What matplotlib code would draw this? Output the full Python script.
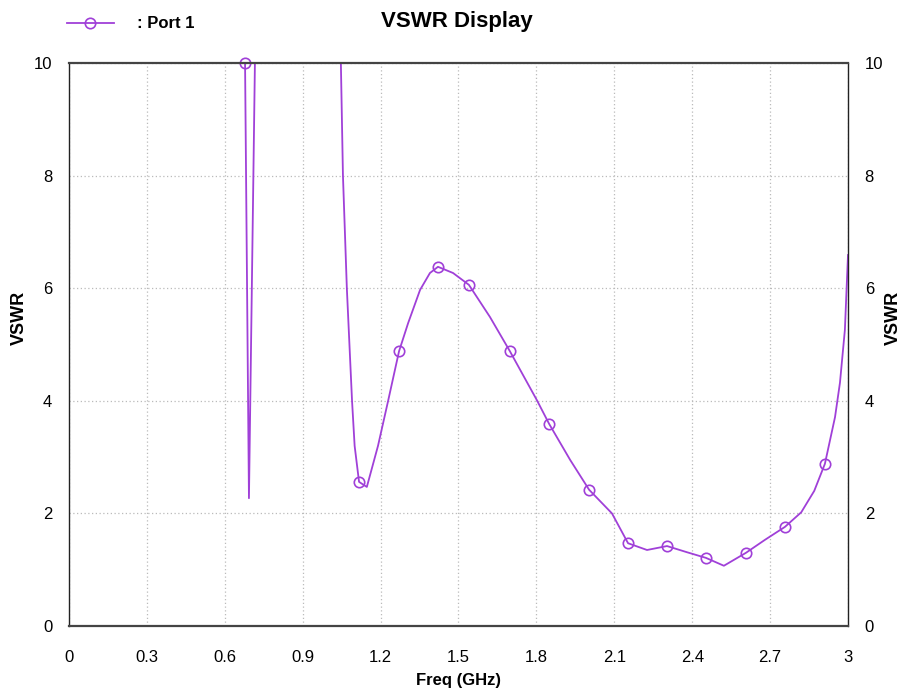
import numpy as np
import matplotlib
matplotlib.use("Agg")
import matplotlib.pyplot as plt
from matplotlib.lines import Line2D

plt.rcParams['font.family'] = ['Liberation Sans', 'DejaVu Sans']

# curve (GHz, VSWR); NaN = off-scale gap
freq = [0.678, 0.693, 0.716, 0.85, 1.047, 1.055, 1.070, 1.090, 1.100, 1.117, 1.147,
        1.190, 1.229, 1.271, 1.306, 1.352, 1.390, 1.421, 1.479, 1.540, 1.621,
        1.698, 1.802, 1.849, 1.930, 2.003, 2.091, 2.153, 2.226, 2.303, 2.380,
        2.453, 2.522, 2.607, 2.680, 2.757, 2.820, 2.870, 2.911, 2.950, 2.969,
        2.988, 3.0]
vswr = [10.0, 2.27, 10.0, np.nan, 10.0, 8.0, 6.0, 4.0, 3.2, 2.56, 2.47,
        3.2, 4.0, 4.88, 5.38, 5.97, 6.27, 6.38, 6.27, 6.06, 5.49,
        4.88, 4.01, 3.59, 2.95, 2.42, 2.0, 1.47, 1.35, 1.42, 1.31,
        1.21, 1.07, 1.30, 1.53, 1.76, 2.02, 2.40, 2.88, 3.71, 4.32,
        5.26, 6.59]

# marker points
mk_freq = [0.678, 1.117, 1.271, 1.421, 1.540, 1.698, 1.849, 2.003, 2.153, 2.303, 2.453, 2.607, 2.757, 2.911]
mk_vswr = [10.0, 2.56, 4.88, 6.38, 6.06, 4.88, 3.59, 2.42, 1.47, 1.42, 1.21, 1.30, 1.76, 2.88]

xticks = [0, 0.3, 0.6, 0.9, 1.2, 1.5, 1.8, 2.1, 2.4, 2.7, 3]
xticklabels = ['0', '0.3', '0.6', '0.9', '1.2', '1.5', '1.8', '2.1', '2.4', '2.7', '3']
yticks = [0, 2, 4, 6, 8, 10]

color = '#a040d8'

fig = plt.figure(figsize=(9.04, 6.92), dpi=100)
ax = fig.add_axes([69/904, 66/692, (848-69)/904, (626-63)/692])

ax.plot(freq, vswr, color=color, lw=1.3, clip_on=True)
ax.plot(mk_freq, mk_vswr, ls='none', marker='o', ms=7.5, mfc='none', mec=color, mew=1.2, clip_on=False)

ax.set_xlim(0, 3)
ax.set_ylim(0, 10)
ax.set_xticks(xticks)
ax.set_xticklabels(xticklabels)
ax.set_yticks(yticks)
ax.tick_params(length=0, labelsize=12)
ax.tick_params(axis='x', pad=17)
ax.tick_params(axis='y', labelright=True, right=False, pad=12)
ax.grid(True, color='#bbbbbb', ls=(0, (1, 2)), lw=0.9)
for s in ['top', 'bottom']:
    ax.spines[s].set_color('#444444')
    ax.spines[s].set_linewidth(1.6)
for s in ['left', 'right']:
    ax.spines[s].set_color('#222222')
    ax.spines[s].set_linewidth(1.0)

ax.set_xlabel('Freq (GHz)', fontsize=12, fontweight='bold', labelpad=6)

fig.text(19/904, 1 - 318/692, 'VSWR', rotation=90, ha='center', va='center', fontsize=13, fontweight='bold')
fig.text(893/904, 1 - 318/692, 'VSWR', rotation=90, ha='center', va='center', fontsize=13, fontweight='bold')

fig.text(457/904, 1 - 22/692, 'VSWR Display', ha='center', va='center', fontsize=16, fontweight='bold')

handle = Line2D([0], [0], color=color, lw=1.3, marker='o', ms=7.5, mfc='none', mec=color, mew=1.2)
fig.legend([handle], [': Port 1'], loc='center left', bbox_to_anchor=(52/904, 1 - 24/692),
           frameon=False, handlelength=2.8, handletextpad=1.4,
           prop={'weight': 'bold', 'size': 12})

fig.savefig('out.png', dpi=100)
